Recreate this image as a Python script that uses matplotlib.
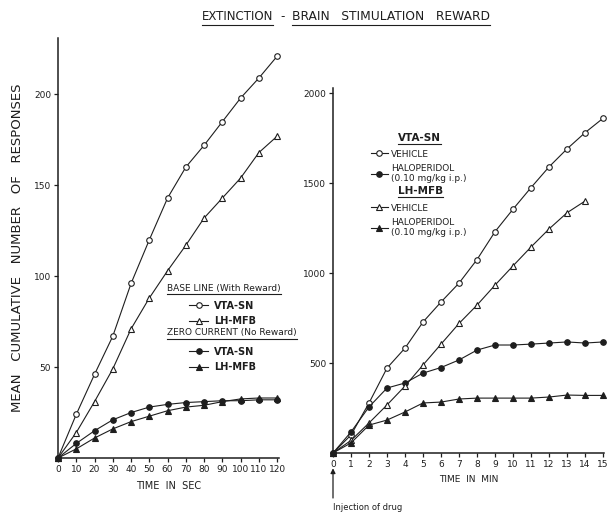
import matplotlib
matplotlib.use("Agg")
import matplotlib.pyplot as plt
from matplotlib.lines import Line2D

plt.rcParams['font.family'] = ['DejaVu Sans']

# ---------------- data ----------------
time_sec = [0, 10, 20, 30, 40, 50, 60, 70, 80, 90, 100, 110, 120]
base_vta = [0, 24, 46, 67, 96, 120, 143, 160, 172, 185, 198, 209, 221]
base_lh = [0, 14, 31, 49, 71, 88, 103, 117, 132, 143, 154, 168, 177]
zero_vta = [0, 8, 15, 21, 25, 28, 29.5, 30.5, 31, 31.5, 31.5, 32, 32]
zero_lh = [0, 5, 11, 16, 20, 23, 26, 28, 29, 31, 32.5, 33, 33]

time_min = list(range(0, 16))
veh_vta = [0, 100, 278, 472, 583, 728, 839, 944, 1075, 1230, 1355, 1475, 1590, 1690, 1780, 1860]
halo_vta = [0, 117, 256, 361, 389, 444, 475, 517, 572, 600, 600, 605, 611, 617, 611, 617]
time_min_lh = list(range(0, 15))
veh_lh = [0, 70, 167, 267, 372, 489, 605, 720, 822, 933, 1040, 1145, 1245, 1335, 1400]
halo_lh = [0, 56, 155, 183, 228, 278, 283, 300, 305, 305, 305, 305, 311, 322, 320, 320]

sec_ticks = [0, 10, 20, 30, 40, 50, 60, 70, 80, 90, 100, 110, 120]
resp_ticks_left = [50, 100, 150, 200]
min_ticks = list(range(0, 16))
resp_ticks_right = [500, 1000, 1500, 2000]

INK = '#1e1e1e'
W, H = 609, 515
fig = plt.figure(figsize=(W / 100, H / 100), dpi=100)

def px_axes(x0, x1, ytop, ybot):
    return fig.add_axes([x0 / W, 1 - ybot / H, (x1 - x0) / W, (ybot - ytop) / H])

def style(ax):
    for s in ('top', 'right'):
        ax.spines[s].set_visible(False)
    for s in ('left', 'bottom'):
        ax.spines[s].set_linewidth(1.1)
        ax.spines[s].set_color(INK)
    ax.tick_params(direction='out', length=3, width=0.9, colors=INK,
                   labelsize=6.5, pad=2)

lkw = dict(color=INK, lw=0.8, markersize=4, markeredgewidth=0.8, clip_on=False)

# ---------------- left panel ----------------
axL = px_axes(58, 279, 38, 458)
style(axL)
h1, = axL.plot(time_sec, base_vta, marker='o', mfc='white', mec=INK, **lkw)
h2, = axL.plot(time_sec, base_lh, marker='^', mfc='white', mec=INK, **lkw)
h3, = axL.plot(time_sec, zero_vta, marker='o', mfc=INK, mec=INK, **lkw)
h4, = axL.plot(time_sec, zero_lh, marker='^', mfc=INK, mec=INK, **lkw)
axL.set_xlim(0, 121)
axL.set_ylim(0, 231)
axL.set_xticks(sec_ticks)
axL.set_yticks(resp_ticks_left)
axL.set_xlabel('TIME  IN  SEC', fontsize=7, color=INK, labelpad=5)
axL.set_ylabel('MEAN   CUMULATIVE   NUMBER   OF   RESPONSES', fontsize=9.5,
               color=INK, labelpad=7)

legkw = dict(frameon=False, handlelength=2.0, handletextpad=0.6,
             borderpad=0, labelspacing=0.55, labelcolor=INK)
legA = axL.legend([h1, h2], ['VTA-SN', 'LH-MFB'], loc='upper left',
                  bbox_to_anchor=((184 - 58) / 221, 1 - (296 - 38) / 420),
                  prop={'weight': 'bold', 'size': 7}, **legkw)
axL.add_artist(legA)
legB = axL.legend([h3, h4], ['VTA-SN', 'LH-MFB'], loc='upper left',
                  bbox_to_anchor=((184 - 58) / 221, 1 - (342 - 38) / 420),
                  prop={'weight': 'bold', 'size': 7}, **legkw)
hdrA = fig.text(167 / W, 1 - 288 / H, 'BASE LINE (With Reward)', fontsize=6.5,
                color=INK, va='center')
hdrB = fig.text(167 / W, 1 - 333 / H, 'ZERO CURRENT (No Reward)', fontsize=6.5,
                color=INK, va='center')

# ---------------- right panel ----------------
axR = px_axes(333, 604, 88, 453)
style(axR)
r1, = axR.plot(time_min, veh_vta, marker='o', mfc='white', mec=INK, **lkw)
r2, = axR.plot(time_min, halo_vta, marker='o', mfc=INK, mec=INK, **lkw)
r3, = axR.plot(time_min_lh, veh_lh, marker='^', mfc='white', mec=INK, **lkw)
r4, = axR.plot(time_min, halo_lh, marker='^', mfc=INK, mec=INK, **lkw)
axR.set_xlim(0, 15.05)
axR.set_ylim(0, 2028)
axR.set_xticks(min_ticks)
axR.set_yticks(resp_ticks_right)
axR.set_xlabel('TIME  IN  MIN', fontsize=6.5, color=INK, labelpad=4)

legkwR = dict(legkw, handlelength=1.9, handletextpad=0.4, labelspacing=0.6)
legC = axR.legend([r1, r2], ['VEHICLE', 'HALOPERIDOL\n(0.10 mg/kg i.p.)'], loc='upper left',
                  bbox_to_anchor=((366 - 333) / 271, 1 - (145 - 88) / 365),
                  prop={'size': 6.5}, **legkwR)
axR.add_artist(legC)
legD = axR.legend([r3, r4], ['VEHICLE', 'HALOPERIDOL\n(0.10 mg/kg i.p.)'], loc='upper left',
                  bbox_to_anchor=((366 - 333) / 271, 1 - (199 - 88) / 365),
                  prop={'size': 6.5}, **legkwR)
hdrC = fig.text(398 / W, 1 - 138 / H, 'VTA-SN', fontsize=7.5, weight='bold',
                color=INK, va='center')
hdrD = fig.text(398 / W, 1 - 191 / H, 'LH-MFB', fontsize=7.5, weight='bold',
                color=INK, va='center')

axR.annotate('', xy=(0, 0), xycoords='data', xytext=(333 / W, 1 - 498 / H),
             textcoords='figure fraction',
             arrowprops=dict(arrowstyle='-|>', color=INK, lw=0.9, mutation_scale=7,
                             shrinkA=0, shrinkB=11))
fig.text(333 / W, 1 - 508 / H, 'Injection of drug', fontsize=6, color=INK,
         ha='left', va='center')

# ---------------- title ----------------
tA = fig.text(202 / W, 1 - 17 / H, 'EXTINCTION', fontsize=8.5, color=INK, va='center')
fig.text(283 / W, 1 - 17 / H, '-', fontsize=8.5, color=INK, va='center', ha='center')
tB = fig.text(292 / W, 1 - 17 / H, 'BRAIN   STIMULATION   REWARD', fontsize=8.8, color=INK,
              va='center')

# ---------------- underlines ----------------
fig.canvas.draw()
r = fig.canvas.get_renderer()

def underline(t, off=1.5):
    bb = t.get_window_extent(r)
    fig.add_artist(Line2D([bb.x0 / W, bb.x1 / W], [(bb.y0 - off) / H] * 2,
                          transform=fig.transFigure, color=INK, lw=0.8))

for t in (tA, tB, hdrA, hdrB, hdrC, hdrD):
    underline(t)

fig.savefig('out.png', dpi=100, facecolor='white')
